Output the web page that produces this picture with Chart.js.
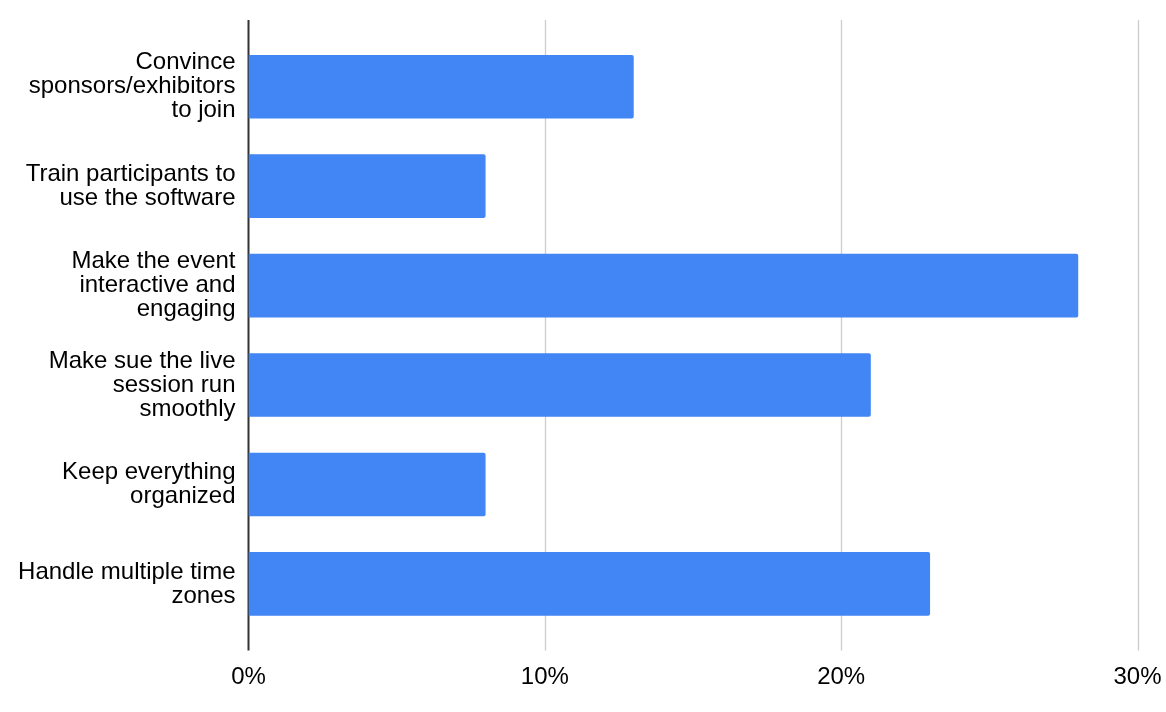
<!DOCTYPE html>
<html>
<head>
<meta charset="utf-8">
<script src="https://cdn.jsdelivr.net/npm/chart.js@4/dist/chart.umd.min.js"></script>
<style>
  html, body { margin: 0; padding: 0; background: #fff; }
  #wrap { width: 1166px; height: 712px; }
</style>
</head>
<body>
<div id="wrap"><canvas id="chart" width="1166" height="712"></canvas></div>
<script>
'use strict';

// categories (already wrapped as in the original chart)
const categories = [
    ['Convince', 'sponsors/exhibitors', 'to join'],
    ['Train participants to', 'use the software'],
    ['Make the event', 'interactive and', 'engaging'],
    ['Make sue the live', 'session run', 'smoothly'],
    ['Keep everything', 'organized'],
    ['Handle multiple time', 'zones'],
];

// share of respondents, in percent
const shares = [13, 8, 28, 21, 8, 23];

const xTickValues = [0, 10, 20, 30];
const xTickLabels = ['0%', '10%', '20%', '30%'];

const FONT = '"Liberation Sans", Arial, sans-serif';
const EXTEND = 17; // gridlines run past the plot area, like Sheets does

/**
 * Draw vertical gridlines and the zero axis a bit taller than the plot area.
 */
const extendedGrid = {
    id: 'extendedGrid',
    beforeDatasetsDraw(chart) {
        const { ctx, chartArea, scales } = chart;
        const top = chartArea.top - EXTEND;
        const bottom = chartArea.bottom + EXTEND;
        ctx.save();
        xTickValues.forEach((v) => {
            if (v === 0) return;
            const x = Math.round(scales.x.getPixelForValue(v)) + 0.5;
            ctx.strokeStyle = '#cccccc';
            ctx.lineWidth = 1.3;
            ctx.beginPath();
            ctx.moveTo(x, top);
            ctx.lineTo(x, bottom);
            ctx.stroke();
        });
        const x0 = scales.x.getPixelForValue(0);
        ctx.strokeStyle = '#333333';
        ctx.lineWidth = 2;
        ctx.beginPath();
        ctx.moveTo(x0, top);
        ctx.lineTo(x0, bottom);
        ctx.stroke();
        ctx.restore();
    },
};

new Chart(document.getElementById('chart').getContext('2d'), {
    type: 'bar',
    data: {
        labels: categories,
        datasets: [
            {
                data: shares,
                backgroundColor: '#4285f4',
                borderWidth: 0,
                borderRadius: { topRight: 2, bottomRight: 2 },
                borderSkipped: 'start',
                categoryPercentage: 1,
                barPercentage: 0.64,
            },
        ],
    },
    options: {
        indexAxis: 'y',
        responsive: false,
        animation: false,
        layout: {
            padding: { top: 36, right: 28.5, bottom: 0, left: 0 },
        },
        plugins: {
            legend: { display: false },
            tooltip: { enabled: false },
        },
        scales: {
            x: {
                min: 0,
                max: 30,
                afterFit: (s) => {
                    s.height = 78.4;
                    s.paddingLeft = 0;
                    s.paddingRight = 0;
                },
                afterBuildTicks: (s) => {
                    s.ticks = xTickValues.map((v) => ({ value: v }));
                },
                grid: { display: false },
                border: { display: false },
                ticks: {
                    padding: 21,
                    color: '#000',
                    font: { family: FONT, size: 24 },
                    callback: (v) => xTickLabels[xTickValues.indexOf(v)],
                },
            },
            y: {
                afterFit: (s) => { s.width = 248.5; },
                grid: { display: false, drawTicks: false },
                border: { display: false },
                ticks: {
                    padding: 13,
                    color: '#000',
                    font: { family: FONT, size: 24, lineHeight: 1.0 },
                },
            },
        },
    },
    plugins: [extendedGrid],
});
</script>
</body>
</html>
